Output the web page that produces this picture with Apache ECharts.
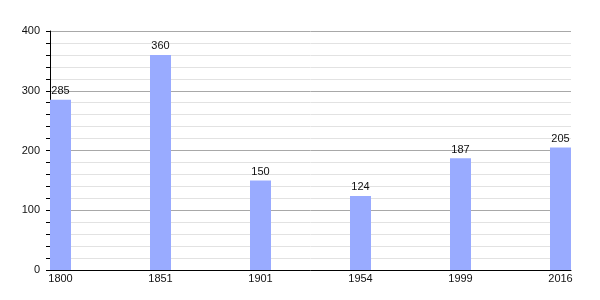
<!DOCTYPE html>
<html>
<head>
<meta charset="utf-8">
<script src="https://cdn.jsdelivr.net/npm/echarts@6/dist/echarts.min.js"></script>
<style>html,body{margin:0;padding:0;background:#fff}#c{width:600px;height:300px}</style>
</head>
<body>
<div id="c"></div>
<script>
const years = ['1800', '1851', '1901', '1954', '1999', '2016'];
const population = [285, 360, 150, 124, 187, 205];
const yTicks = [0, 100, 200, 300, 400];

const font = 'Liberation Sans, Arial, sans-serif';
const chart = echarts.init(document.getElementById('c'), null, {renderer: 'canvas'});
chart.setOption({
  animation: false,
  backgroundColor: '#ffffff',
  grid: [
    {left: 50, right: 29, top: 31, bottom: 30},
    {left: 60.5, right: 39.5, top: 31, bottom: 30}
  ],
  xAxis: [
    {
      type: 'value', gridIndex: 0, min: 0, max: 1,
      axisLine: {show: true, lineStyle: {color: '#000', width: 1}},
      axisTick: {show: false}, axisLabel: {show: false}, splitLine: {show: false}
    },
    {
      type: 'category', gridIndex: 1, data: years, boundaryGap: false,
      axisLine: {show: false}, axisTick: {show: false},
      axisLabel: {color: '#111', fontSize: 11, fontFamily: font, margin: 3},
      splitLine: {show: false}
    }
  ],
  yAxis: [
    {
      type: 'value', gridIndex: 0, min: yTicks[0], max: yTicks[yTicks.length - 1], interval: 100,
      axisLine: {show: true, lineStyle: {color: '#000', width: 1}},
      axisTick: {show: true, inside: false, length: 4, lineStyle: {color: '#000'}},
      minorTick: {show: true, splitNumber: 5, length: 4, lineStyle: {color: '#000'}},
      axisLabel: {color: '#111', fontSize: 11, fontFamily: font, margin: 10},
      splitLine: {show: true, lineStyle: {color: '#a8a8a8', width: 1}},
      minorSplitLine: {show: true, lineStyle: {color: '#e2e2e2', width: 1}}
    },
    {
      type: 'value', gridIndex: 1, min: yTicks[0], max: yTicks[yTicks.length - 1],
      show: false, splitLine: {show: false}
    }
  ],
  series: [{
    type: 'bar', xAxisIndex: 1, yAxisIndex: 1,
    data: population, barWidth: 21,
    itemStyle: {color: '#99abff'},
    label: {show: true, position: 'top', distance: 3, color: '#111', fontSize: 11, fontFamily: font}
  }]
});
</script>
</body>
</html>
